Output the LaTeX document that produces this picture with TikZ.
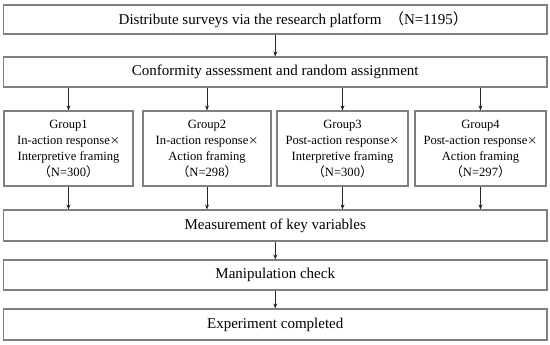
\documentclass[tikz,border=0pt]{standalone}
\usepackage{fontspec}
\setmainfont{Liberation Serif}
\newfontfamily\cjk{Noto Sans CJK SC}
\usetikzlibrary{arrows.meta}
\definecolor{boxgray}{HTML}{7F7F7F}
\newcommand{\tms}{{\cjk\fontsize{10}{10}\selectfont ×}}
\begin{document}
\begin{tikzpicture}[x=1pt,y=-1pt,
  box/.style={draw=boxgray,line width=1.1pt,inner sep=0pt,align=center,
    font=\fontsize{15}{18}\selectfont},
  grp/.style={box,minimum height=75pt,font=\fontsize{12.6}{16}\selectfont},
  arr/.style={-{Stealth[length=5pt,width=4pt]},line width=0.8pt,draw=black!85}]
\useasboundingbox (0,0) rectangle (550,345);
\node[box,minimum width=543.5pt,minimum height=29pt] (survey) at (275.25,19.5)
  {\hspace*{36pt}Distribute surveys via the research platform\enspace{\cjk （}N=1195{\cjk ）}};
\node[box,minimum width=543.5pt,minimum height=30pt] (assign) at (275.25,72)
  {Conformity assessment and random assignment};
\node[grp,minimum width=129pt] (g1) at (68.5,148.5)
  {Group1\\In-action response\tms\\Interpretive framing\\{\cjk （}N=300{\cjk ）}};
\node[grp,minimum width=128pt] (g2) at (207,148.5)
  {Group2\\In-action response\tms\\Action framing\\{\cjk （}N=298{\cjk ）}};
\node[grp,minimum width=131pt] (g3) at (342.5,148.5)
  {Group3\\Post-action response\tms\\Interpretive framing\\{\cjk （}N=300{\cjk ）}};
\node[grp,minimum width=131pt] (g4) at (480.5,148.5)
  {Group4\\Post-action response\tms\\Action framing\\{\cjk （}N=297{\cjk ）}};
\node[box,minimum width=543.5pt,minimum height=31pt] (measure) at (275.25,225.5)
  {Measurement of key variables};
\node[box,minimum width=543.5pt,minimum height=30pt] (check) at (275.25,275)
  {Manipulation check};
\node[box,minimum width=543.5pt,minimum height=31pt] (done) at (275.25,324.5)
  {Experiment completed};
\draw[arr] (survey) -- (assign);
\foreach \g in {g1,g2,g3,g4}{
  \draw[arr] (assign.south -| \g.north) -- (\g.north);
  \draw[arr] (\g.south) -- (\g.south |- measure.north);
}
\draw[arr] (measure) -- (check);
\draw[arr] (check) -- (done);
\end{tikzpicture}
\end{document}
